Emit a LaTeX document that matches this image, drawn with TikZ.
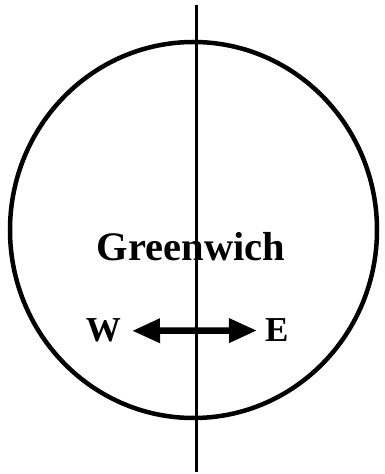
\documentclass[tikz,border=0pt]{standalone}
\usepackage{fontspec}
\setmainfont{Liberation Serif}
\usepackage{tikz}
\usetikzlibrary{arrows.meta}
\usetikzlibrary{positioning}

\tikzset{
  compass/.style={font=\bfseries\fontsize{35}{38}\selectfont, inner sep=0pt},
  eastwest/.style={line width=6.5pt, {Triangle[length=28pt,width=23pt]}-{Triangle[length=28pt,width=23pt]}},
}

\begin{document}
\begin{tikzpicture}[x=1pt,y=1pt]
        \useasboundingbox (0,0) rectangle (384,474);

        \coordinate (C) at (193.5,244);
        \coordinate (N) at (196.5,469);
        \coordinate (S) at (196.5,2);

        \draw[line width=4.5pt] (C) ellipse [x radius=183.5, y radius=188];
        \draw[line width=2.2pt] (N)--(S);

        \node[font=\bfseries\fontsize{40.5}{44}\selectfont, inner sep=0pt, anchor=base]
            (greenwich) at (191,213) {Greenwich};
        \node[compass, anchor=base east] (west) at (121,132) {W};
        \node[compass, anchor=base west] (east) at (265,132) {E};
        \draw[eastwest] ([xshift=11pt]west.east) -- ([xshift=-8pt]east.west);
\end{tikzpicture}
\end{document}
